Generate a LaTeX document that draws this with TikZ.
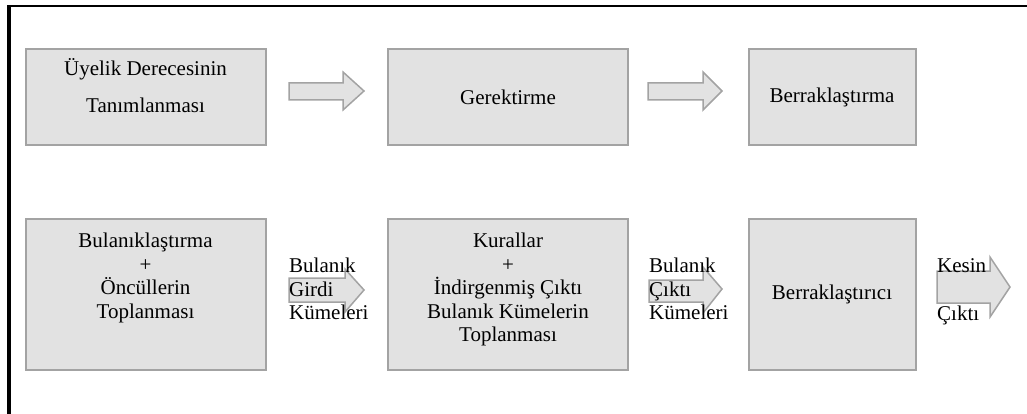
\documentclass[tikz,border=0pt]{standalone}
\usepackage{fontspec}
\setmainfont{Liberation Serif}
\usetikzlibrary{positioning}
\definecolor{kutugri}{RGB}{226,226,226}
\definecolor{kenargri}{RGB}{163,163,163}
\begin{document}
\begin{tikzpicture}[x=1pt,y=-1pt,font=\fontsize{21}{23.5}\selectfont,
		kutu/.style={draw=kenargri,fill=kutugri,line width=2pt,inner sep=0pt,minimum width=240pt},
		ok/.style={draw=kenargri,fill=kutugri,line width=1.5pt,line join=miter},
		yazi/.style={align=center,inner sep=0pt},
		etiket/.style={align=left,inner sep=0pt,anchor=north west}]
		\useasboundingbox (0,0) rectangle (1027,414);
		%Cerceve
		\draw [line width=3.4pt] (9,414) -- (9,6);
		\draw [line width=2.6pt] (7.3,6) -- (1027,6);
		%Ust satir
		\node [kutu, minimum height=96pt] (uyelik) at (145.5,97.5) {};
		\node [yazi, below=10pt of uyelik.north] (uyelikyazi) {Üyelik Derecesinin\\[13.5pt]Tanımlanması};
		\node [kutu, minimum height=96pt, right=120.5pt of uyelik] (gerektirme) {Gerektirme};
		\node [kutu, minimum height=96pt, minimum width=167pt, right=118.5pt of gerektirme] (berraklastirma) {Berraklaştırma};
		%Alt satir
		\node [kutu, minimum height=151pt, below=71.5pt of uyelik] (bulanik) {};
		\node [yazi, below=15pt of bulanik.north] (bulanikyazi) {Bulanıklaştırma\\+\\Öncüllerin\\Toplanması};
		\node [kutu, minimum height=151pt, right=120.5pt of bulanik] (kurallar) {};
		\node [yazi, below=15pt of kurallar.north] (kurallaryazi) {Kurallar\\+\\İndirgenmiş Çıktı\\Bulanık Kümelerin\\Toplanması};
		\node [kutu, minimum height=151pt, minimum width=167pt, right=118.5pt of kurallar] (berraklastirici) {Berraklaştırıcı};
		%Oklar
		\draw [ok] (289,83) -- (343,83) -- (343,72) -- (364,91) -- (343,110) -- (343,100) -- (289,100) -- cycle;
		\draw [ok] (648,83) -- (703,83) -- (703,72) -- (722,91) -- (703,110) -- (703,100) -- (648,100) -- cycle;
		\draw [ok] (289,278) -- (345,278) -- (345,269) -- (364,290) -- (345,312) -- (345,302) -- (289,302) -- cycle;
		\draw [ok] (649,280) -- (703,280) -- (703,267) -- (722,289) -- (703,313) -- (703,302) -- (649,302) -- cycle;
		\draw [ok] (937,271) -- (990,271) -- (990,257) -- (1010,287) -- (990,317) -- (990,303) -- (937,303) -- cycle;
		%Etiketler
		\node [etiket] (girdi) at (289,258) {Bulanık\\Girdi\\Kümeleri};
		\node [etiket] (cikti) at (649,258) {Bulanık\\Çıktı\\Kümeleri};
		\node [etiket] (kesin) at (937,258) {Kesin\\[24.5pt]Çıktı};
	\end{tikzpicture}
\end{document}
